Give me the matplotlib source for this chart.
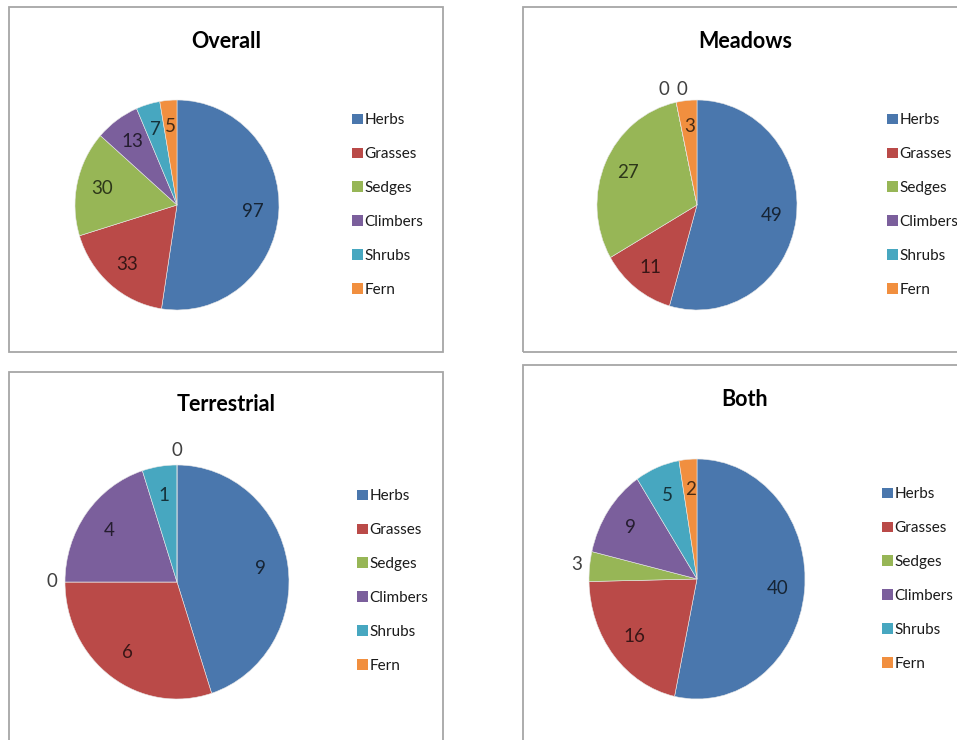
import matplotlib
matplotlib.use("Agg")
import matplotlib.pyplot as plt
from matplotlib.patches import Rectangle, Patch
import numpy as np

plt.rcParams['font.family'] = ['Lato', 'DejaVu Sans']

categories = ["Herbs", "Grasses", "Sedges", "Climbers", "Shrubs", "Fern"]
colors = ["#4A77AD", "#BA4A48", "#97B656", "#7B5F9C", "#47A7C0", "#F18F3F"]

titles = ["Overall", "Meadows", "Terrestrial", "Both"]
overall = [97, 33, 30, 13, 7, 5]
meadows = [49, 11, 27, 0, 0, 3]
terrestrial = [9, 6, 0, 4, 1, 0]
both = [40, 16, 3, 9, 5, 2]
panels = [overall, meadows, terrestrial, both]

W, H = 957, 740
fig = plt.figure(figsize=(W / 100, H / 100), dpi=100)

# panel layout in pixels: box (left, top, right, bottom), pie centre/radii, legend anchor
boxes = [(9, 7, 443, 352), (523, 7, 975, 352), (9, 372, 443, 760), (523, 365, 975, 760)]
pie_geo = [(177, 205, 102, 105), (697, 205, 100, 105), (177, 582, 112, 117), (697, 579, 108, 120)]
title_pos = [(226, 42), (745, 42), (226, 405), (745, 400)]
legend_pos = [(352, 205), (887, 205), (357, 581), (882, 579)]
# labels drawn outside the pie, with small horizontal nudges
outside = [{}, {3: -0.1, 4: 0.08}, {2: 0.0, 5: 0.0}, {2: 0.0}]


def px(x, y):
    return x / W, 1 - y / H


for k in range(4):
    l, t, r, b = boxes[k]
    fig.patches.append(Rectangle(px(l, b), (r - l) / W, (b - t) / H, transform=fig.transFigure,
                                 fill=False, edgecolor="#A6A6A6", linewidth=1.3))

    cx, cy, rx, ry = pie_geo[k]
    ax = fig.add_axes([(cx - rx) / W, 1 - (cy + ry) / H, 2 * rx / W, 2 * ry / H])
    vals = panels[k]
    wedges, _ = ax.pie(vals, colors=colors, startangle=90, counterclock=False,
                       wedgeprops=dict(linewidth=0.4, edgecolor="#E8E8E8"))
    ax.set_aspect("auto")
    ax.set_xlim(-1, 1)
    ax.set_ylim(-1, 1)

    for i, w in enumerate(wedges):
        mid = np.deg2rad((w.theta1 + w.theta2) / 2)
        if i in outside[k]:
            d = 1.12
            x = d * np.cos(mid) + outside[k][i]
            y = d * np.sin(mid)
            col = "#404040"
        else:
            d = 0.75
            x = d * np.cos(mid)
            y = d * np.sin(mid)
            col = tuple(c * 0.3 for c in matplotlib.colors.to_rgb(colors[i]))
        ax.text(x, y, str(vals[i]), ha="center", va="center", fontsize=13.5, color=col,
                clip_on=False)

    tx, ty = title_pos[k]
    fig.text(*px(tx, ty), titles[k], ha="center", va="center", fontsize=15.5,
             fontweight="bold", color="black")

    handles = [Patch(facecolor=c, edgecolor="none") for c in colors]
    lx, ly = legend_pos[k]
    fig.legend(handles, categories, loc="center left", bbox_to_anchor=px(lx, ly),
               frameon=False, fontsize=11, handlelength=0.7, handleheight=0.7,
               handletextpad=0.1, labelspacing=1.3, borderpad=0, borderaxespad=0,
               labelcolor="#1A1A1A")

fig.savefig("out.png", dpi=100)
